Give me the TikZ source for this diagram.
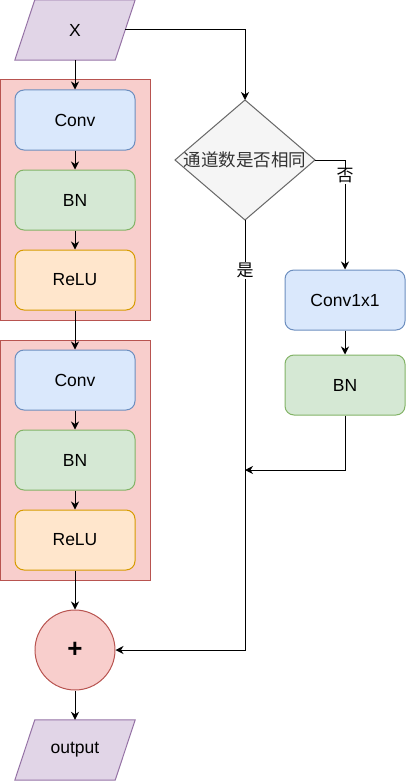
\documentclass[tikz,border=0pt]{standalone}
\usepackage{fontspec}
\setmainfont{Liberation Sans}
\newfontfamily\cjk{Noto Sans CJK SC}
\usetikzlibrary{arrows.meta,calc}
\definecolor{bluef}{HTML}{DAE8FC}\definecolor{blued}{HTML}{6C8EBF}
\definecolor{greenf}{HTML}{D5E8D4}\definecolor{greend}{HTML}{82B366}
\definecolor{orangef}{HTML}{FFE6CC}\definecolor{oranged}{HTML}{D79B00}
\definecolor{redf}{HTML}{F8CECC}\definecolor{redd}{HTML}{B85450}
\definecolor{purpf}{HTML}{E1D5E7}\definecolor{purpd}{HTML}{9673A6}
\definecolor{grayf}{HTML}{F5F5F5}\definecolor{grayd}{HTML}{666666}
\definecolor{txtgray}{HTML}{333333}
\begin{document}
\begin{tikzpicture}[x=1pt,y=-1pt,
  txt/.style={font=\fontsize{17.5}{20}\selectfont},
  block/.style={txt, rounded corners=9pt, minimum width=120pt, minimum height=60pt, inner sep=0pt, line width=1pt, draw},
  convbox/.style={block, fill=bluef, draw=blued},
  bnbox/.style={block, fill=greenf, draw=greend},
  relubox/.style={block, fill=orangef, draw=oranged},
  group/.style={draw=redd, fill=redf, line width=1pt, minimum width=150pt, minimum height=240pt, inner sep=0pt},
  para/.style={draw=purpd, fill=purpf, line width=1pt},
  iotext/.style={txt, minimum width=120pt, minimum height=60pt, inner sep=0pt},
  arr/.style={line width=1pt, -{Stealth[length=8pt,width=8pt,inset=2.5pt]}},
  lbl/.style={fill=white, inner sep=1pt, font=\cjk\fontsize{17}{20}\selectfont}
]
\useasboundingbox (0,0) rectangle (406,781);

% input
\node[iotext] (X) at (75,30) {};
\draw[para] (X.south west) -- ([xshift=20pt]X.north west) -- (X.north east) -- ([xshift=-20pt]X.south east) -- cycle;
\node[txt] (Xt) at (X.center) {X};
\coordinate (Xr) at ([xshift=-10pt]X.east);

% group 1
\node[group] (g1) at (75,200) {};
\node[convbox] (c1) at (75,120) {Conv};
\node[bnbox] (b1) at (75,200) {BN};
\node[relubox] (r1) at (75,280) {ReLU};

% group 2
\node[group] (g2) at (75,460) {};
\node[convbox] (c2) at (75,380) {Conv};
\node[bnbox] (b2) at (75,460) {BN};
\node[relubox] (r2) at (75,540) {ReLU};

% add
\node[circle, draw=redd, fill=redf, line width=1pt, minimum size=80pt, inner sep=0pt, font=\bfseries\fontsize{26}{28}\selectfont] (add) at (75,650) {+};

% output
\node[iotext] (out) at (75,750) {};
\draw[para] (out.south west) -- ([xshift=20pt]out.north west) -- (out.north east) -- ([xshift=-20pt]out.south east) -- cycle;
\node[txt] (outt) at (out.center) {output};

% decision
\coordinate (dT) at (245,100);
\coordinate (dR) at (315,160);
\coordinate (dB) at (245,220);
\coordinate (dL) at (175,160);
\draw[draw=grayd, fill=grayf, line width=1pt] (dL) -- (dT) -- (dR) -- (dB) -- cycle;
\node[font=\cjk\fontsize{17.5}{20}\selectfont, text=txtgray, inner sep=0pt] (d) at (245,160) {通道数是否相同};

% shortcut branch
\node[convbox] (cv) at (345,300) {Conv1x1};
\node[bnbox] (bn3) at (345,385) {BN};
\coordinate (j) at (245,470);

% connectors
\draw[arr] (Xr) -| (dT);
\draw[arr] (X.south) -- (c1.north);
\draw[arr] (c1) -- (b1);
\draw[arr] (b1) -- (r1);
\draw[arr] (r1.south) -- (c2.north);
\draw[arr] (c2) -- (b2);
\draw[arr] (b2) -- (r2);
\draw[arr] (r2.south) -- (add.north);
\draw[arr] (add.south) -- (out.north);
\draw[arr] (dR) -| node[lbl, pos=0.573] {否} (cv.north);
\draw[arr] (cv) -- (bn3);
\draw[arr] (bn3.south) |- (j);
\draw[arr] (dB) |- node[lbl, pos=0.059] {是} (add.east);
\end{tikzpicture}
\end{document}
